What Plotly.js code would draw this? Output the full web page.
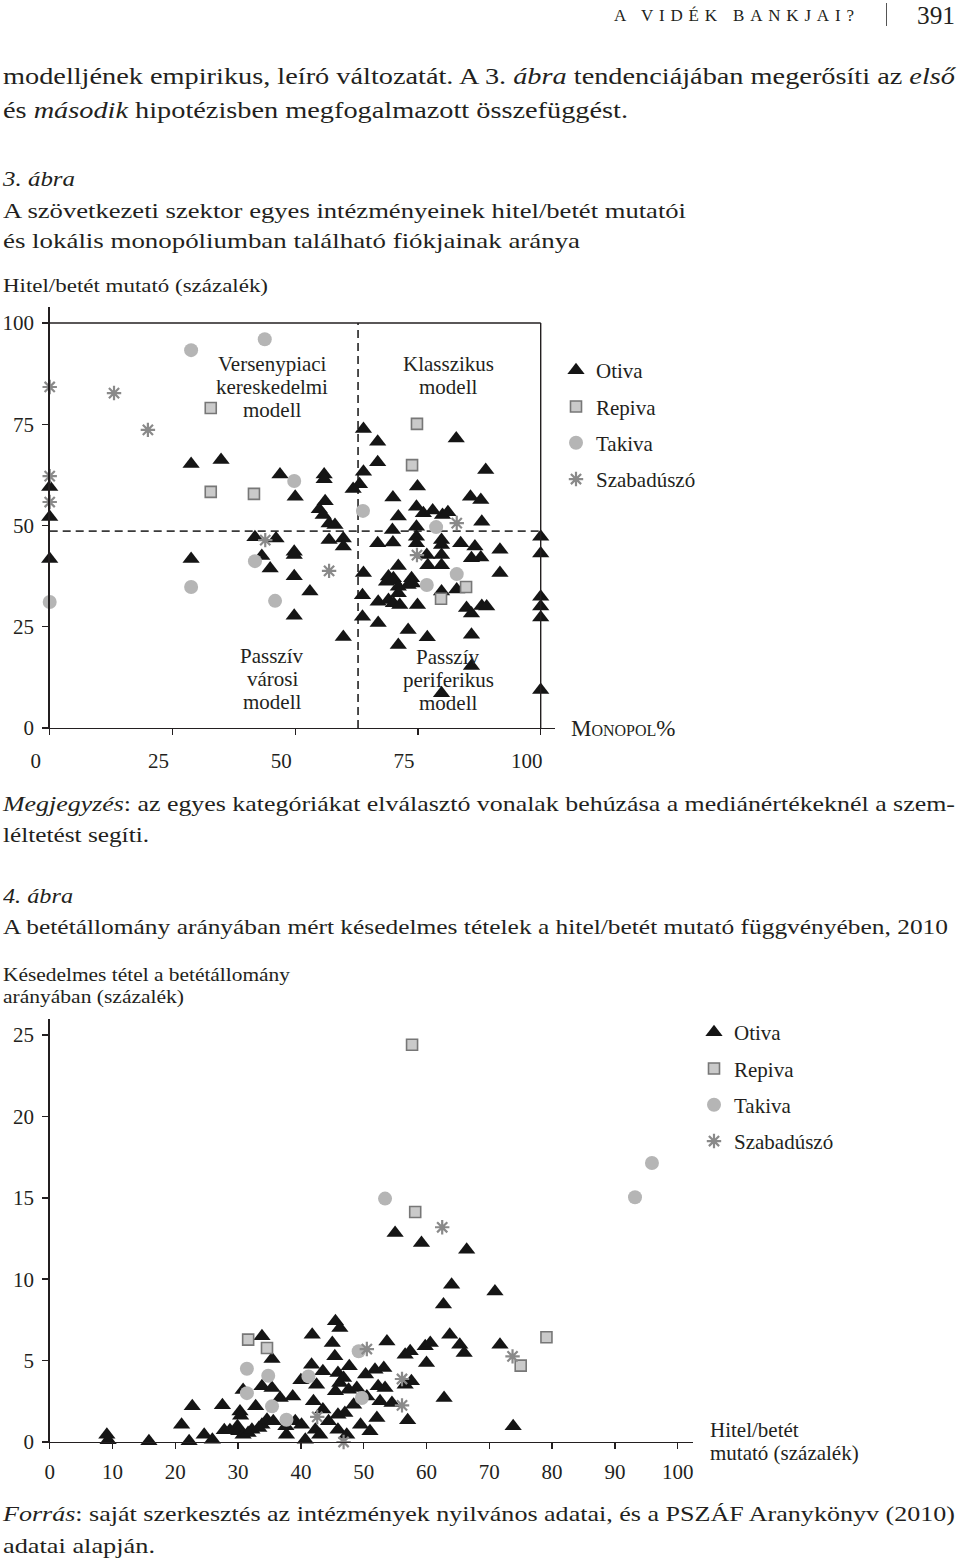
<!DOCTYPE html>
<html>
<head>
<meta charset="utf-8">
<script src="https://cdn.plot.ly/plotly-3.0.1.min.js"></script>
<style>
  body { margin: 0; background: #fff; }
  #page { position: relative; width: 960px; height: 1561px; overflow: hidden; background: #fff;
          font-family: "Liberation Serif", "DejaVu Serif", serif; color: #231f20; }
  #plot { position: absolute; left: 0; top: 0; width: 960px; height: 1561px; }
  .ln { position: absolute; white-space: nowrap; line-height: 1; transform-origin: 0 50%; z-index: 5; }
  .bar { position: absolute; left: 886px; top: 3px; width: 1px; height: 23px; background: #555; z-index: 5; }
  i { font-style: italic; }
</style>
</head>
<body>
<div id="page">
  <div id="plot"></div>
  <div class="ln" data-l="614" data-cy="16" data-f="17" data-r="854" data-mode="ls">A VIDÉK BANKJAI?</div>
  <div class="bar"></div>
  <div class="ln" data-l="917" data-cy="17" data-f="25" data-r="955">391</div>

  <div class="ln" data-l="3" data-cy="77" data-f="24" data-r="955">modelljének empirikus, leíró változatát. A 3. <i>ábra</i> tendenciájában megerősíti az <i>első</i></div>
  <div class="ln" data-l="3" data-cy="111" data-f="24" data-r="628">és <i>második</i> hipotézisben megfogalmazott összefüggést.</div>

  <div class="ln" data-l="3" data-cy="180" data-f="22" data-r="75"><i>3. ábra</i></div>
  <div class="ln" data-l="3" data-cy="212" data-f="22" data-r="686">A szövetkezeti szektor egyes intézményeinek hitel/betét mutatói</div>
  <div class="ln" data-l="3" data-cy="242" data-f="22" data-r="580">és lokális monopóliumban található fiókjainak aránya</div>
  <div class="ln" data-l="3" data-cy="286" data-f="19" data-r="268">Hitel/betét mutató (százalék)</div>

  <div class="ln" data-l="3" data-cy="805" data-f="22" data-r="955"><i>Megjegyzés</i>: az egyes kategóriákat elválasztó vonalak behúzása a mediánértékeknél a szem-</div>
  <div class="ln" data-l="3" data-cy="836" data-f="22" data-r="149">léltetést segíti.</div>

  <div class="ln" data-l="3" data-cy="897" data-f="22" data-r="73"><i>4. ábra</i></div>
  <div class="ln" data-l="3" data-cy="928" data-f="22" data-r="948">A betétállomány arányában mért késedelmes tételek a hitel/betét mutató függvényében, 2010</div>
  <div class="ln" data-l="3" data-cy="975" data-f="19" data-r="290">Késedelmes tétel a betétállomány</div>
  <div class="ln" data-l="3" data-cy="997" data-f="19" data-r="184">arányában (százalék)</div>

  <div class="ln" data-l="3" data-cy="1515" data-f="22" data-r="955"><i>Forrás</i>: saját szerkesztés az intézmények nyilvános adatai, és a PSZÁF Aranykönyv (2010)</div>
  <div class="ln" data-l="3" data-cy="1547" data-f="22" data-r="155">adatai alapján.</div>
</div>

<script>
// ---------------- DATA: chart 3 (Monopol% vs Hitel/betét) ----------------
const c1OtivaX = [0,0,0, 28.8,34.9,28.8, 46.9,55.9,55.9,50.0,56.1,54.9,55.7,56.9,58.1,
  41.8,46.1,43.2,49.8,49.8,44.9,49.8,53.0,49.8,56.9,59.8,59.8,59.8,
  63.9,66.8,66.8,63.9,63.1,61.8,
  82.8,88.8,74.9,69.9,85.7,87.8,74.7,76.1,78.0,80.0,81.1,71.0,88.0,69.8,74.7,
  74.7,74.7,66.8,69.9,79.8,79.8,83.7,86.6,87.8,85.9,91.7,
  76.8,79.8,79.8,77.0,71.0,63.9,91.7,69.0,70.0,73.7,
  68.6,70.0,71.0,73.0,73.9,82.9,79.8,63.7,66.9,69.0,70.0,71.0,71.3,74.9,84.9,85.9,88.0,89.0,
  63.7,66.9,73.0,71.0,76.9,85.9,85.9,79.8,
  100,100,100,100,100,100];
const c1OtivaY = [59.5,52.1,41.7, 65.2,66.2,41.7, 62.6,62.6,61.4,57.1,56.0,54.0,52.6,50.5,50.1,
  47.1,46.8,42.5,43.5,42.7,39.4,37.5,33.7,27.7,46.4,46.8,44.8,22.5,
  73.8,70.7,65.6,63.3,60.2,59.0,
  71.5,63.7,59.6,56.9,57.1,56.3,54.6,53.0,53.7,52.6,53.3,52.2,50.9,48.9,49.7,
  47.2,45.6,45.6,45.8,46.4,45.2,45.6,44.8,42.1,41.9,44.0,
  42.7,42.7,40.2,40.2,40.0,38.3,38.3,37.4,37.0,37.0,
  36.1,36.5,34.9,35.3,35.7,34.2,33.7,32.8,31.2,31.6,30.8,33.3,30.4,30.4,29.6,28.3,30.1,30.0,
  27.5,25.9,24.2,20.5,22.4,23.0,15.3,8.6,
  47.2,43.1,32.4,30.0,27.3,9.4];
const c1RepivaX = [32.8,32.8,41.6,74.8,73.8,79.7,84.8];
const c1RepivaY = [79.0,58.3,57.8,75.1,64.9,31.9,34.8];
const c1TakivaX = [0,28.8,43.8,28.8,41.8,45.9,49.8,63.8,78.7,76.8,82.9];
const c1TakivaY = [31.1,93.3,96.0,34.8,41.2,31.4,61.0,53.6,49.6,35.3,38.0];
const c1SzabadX = [0,13.1,20.0,0,0,43.9,56.9,74.8,82.9];
const c1SzabadY = [84.2,82.7,73.6,62.2,55.8,46.4,38.8,42.7,50.6];
const c1Ticks = [0,25,50,75,100];
const c1MedianX = 62.8;   // vertical dashed median line (Monopol%)
const c1MedianY = 48.6;   // horizontal dashed median line (Hitel/betét)
const c1QuadrantLabels = [["Versenypiaci","kereskedelmi","modell"], ["Klasszikus","modell"],
                          ["Passzív","városi","modell"], ["Passzív","periferikus","modell"]];

// ---------------- DATA: chart 4 (késedelmes tétel vs Hitel/betét) ----------------
const c2OtivaX = [9.1,9.3,15.8,21.0,22.7,22.2,24.6,25.9,27.5,27.8,28.7,29.9,30.3,30.4,30.1,30.8,30.8,31.6,32.2,32.8,
  33.8,33.8,33.8,33.3,34.6,35.4,35.4,35.6,36.7,37.6,37.7,38.7,39.1,40.0,40.1,40.7,41.7,41.8,42.0,42.5,
  42.3,43.0,43.5,43.5,44.4,45.0,45.4,45.5,46.2,45.5,45.9,46.2,45.9,45.9,46.8,47.0,47.3,47.6,47.7,48.4,
  48.9,49.5,50.3,50.5,51.0,51.8,52.1,52.3,52.6,53.2,53.4,53.7,54.5,55.0,56.6,56.6,57.4,57.6,57.0,59.2,
  59.8,60.0,60.6,62.7,62.8,63.7,64.0,65.3,66.0,66.4,70.9,71.7,73.8];
const c2OtivaY = [0.45,0.1,0.04,1.06,2.19,0.04,0.45,0.14,2.25,0.72,0.72,0.96,1.88,1.62,0.66,0.45,3.2,0.55,0.76,2.19,
  6.49,3.42,1.06,0.86,1.37,5.1,3.32,1.27,2.7,0.96,0.45,2.8,1.27,3.79,1.06,0.14,4.75,6.59,2.5,3.52,
  0.76,0.45,4.34,1.99,1.27,6.08,5.26,7.41,7.0,3.11,4.24,3.62,1.68,0.76,3.93,1.78,0.45,3.21,4.65,2.29,
  3.32,1.06,4.14,2.8,0.66,4.44,1.47,3.42,2.5,4.55,3.32,6.18,2.4,12.84,5.36,3.52,5.57,3.73,1.33,12.22,
  5.88,4.85,6.08,8.44,2.7,6.59,9.66,5.98,5.47,11.81,9.25,5.98,0.96];
const c2RepivaX = [31.6,34.6,57.7,58.2,79.1,75.0];
const c2RepivaY = [6.29,5.77,24.4,14.13,6.43,4.69];
const c2TakivaX = [31.4,31.4,34.8,35.4,37.7,41.2,49.2,49.7,53.4,93.2,95.9];
const c2TakivaY = [4.5,3.0,4.07,2.19,1.37,4.03,5.57,2.7,14.95,15.03,17.14];
const c2SzabadX = [50.5,42.6,46.8,56.1,56.1,62.5,73.7];
const c2SzabadY = [5.71,1.54,0.0,3.87,2.25,13.19,5.26];
const c2XTicks = [0,10,20,30,40,50,60,70,80,90,100];
const c2YTicks = [0,5,10,15,20,25];

const seriesNames = ["Otiva","Repiva","Takiva","Szabadúszó"];

// ---------------- styling ----------------
const INK = '#231f20';
const FONT = '"Liberation Serif", "DejaVu Serif", serif';
const W = 960, H = 1561;
const PX = p => p / W;
const PY = p => 1 - p / H;

const styles = [
  {symbol:'triangle-up', size:15, color:'#151515', line:{width:0}},
  {symbol:'square', size:11, color:'#cacaca', line:{color:'#777', width:1.6}},
  {symbol:'circle', size:14, color:'#b5b5b5', line:{width:0}},
  {symbol:'asterisk-open', size:12, color:'#8a8a8a', line:{color:'#8a8a8a', width:2.2}}
];

function mk(x, y, i, xa, ya, legend, grp) {
  return {
    type:'scatter', mode:'markers', x:x, y:y, name:seriesNames[i],
    xaxis:xa, yaxis:ya, legend:legend, legendgroup:grp+i, cliponaxis:false,
    marker:styles[i], hoverinfo:'x+y+name'
  };
}

const traces = [
  mk(c1OtivaX, c1OtivaY, 0, 'x', 'y', 'legend', 'a'),
  mk(c1RepivaX, c1RepivaY, 1, 'x', 'y', 'legend', 'a'),
  mk(c1TakivaX, c1TakivaY, 2, 'x', 'y', 'legend', 'a'),
  mk(c1SzabadX, c1SzabadY, 3, 'x', 'y', 'legend', 'a'),
  mk(c2OtivaX, c2OtivaY, 0, 'x2', 'y2', 'legend2', 'b'),
  mk(c2RepivaX, c2RepivaY, 1, 'x2', 'y2', 'legend2', 'b'),
  mk(c2TakivaX, c2TakivaY, 2, 'x2', 'y2', 'legend2', 'b'),
  mk(c2SzabadX, c2SzabadY, 3, 'x2', 'y2', 'legend2', 'b')
];

const TICKSIZE = 21;
const axisCommon = {
  showgrid:false, zeroline:false, showline:true, linecolor:INK, linewidth:1.4,
  ticks:'outside', ticklen:6, tickwidth:1.4, tickcolor:INK,
  tickfont:{family:FONT, size:TICKSIZE, color:INK}, fixedrange:true
};

// chart 1 pixel frame
const c1L = 49.7, c1B = 728, c1PxX = 4.91, c1PxY = 4.05;
const c1XMax = 103, c1YMax = 104;
// chart 2 pixel frame
const c2L = 49.7, c2B = 1442, c2PxX = 6.28, c2PxY = 16.28;
const c2XMax = 102.4, c2YMax = 26;

function ann(text, x, y, size, xanchor, extra) {
  return Object.assign({
    text:text, xref:'paper', yref:'paper', x:PX(x), y:PY(y), xanchor:xanchor||'center', yanchor:'middle',
    showarrow:false, align: (xanchor==='left'?'left':'center'),
    font:{family:FONT, size:size, color:INK}
  }, extra||{});
}
// multi-line label with tight line spacing: one annotation per line
function stack(lines, cx, firstY, step, size, xanchor) {
  return lines.map((t, k) => ann(t, cx, firstY + k*step, size, xanchor));
}

const annotations = [].concat(
  stack(c1QuadrantLabels[0], 272, 364, 23, 21),
  stack(c1QuadrantLabels[1], 448, 364, 23, 21),
  stack(c1QuadrantLabels[2], 272, 656, 23, 21),
  stack(c1QuadrantLabels[3], 448, 657, 23, 21),
  [ann('Monopol%', 569, 728, 23, 'left', {font:{family:FONT, size:23, color:INK, variant:'small-caps'}})],
  stack(['Hitel/betét', 'mutató (százalék)'], 708, 1430, 23, 21, 'left')
);

const layout = {
  width:W, height:H, autosize:false, margin:{l:0,r:0,t:0,b:0},
  paper_bgcolor:'rgba(0,0,0,0)', plot_bgcolor:'rgba(0,0,0,0)',
  font:{family:FONT, color:INK},
  xaxis: Object.assign({}, axisCommon, {
    domain:[PX(c1L), PX(c1L + c1XMax*c1PxX)], range:[0,c1XMax], anchor:'y',
    tickvals:c1Ticks, ticktext:c1Ticks.map(String), ticklabelshift:-14, ticklabelstandoff:7
  }),
  yaxis: Object.assign({}, axisCommon, {
    domain:[PY(c1B), PY(c1B - c1YMax*c1PxY)], range:[0,c1YMax], anchor:'x',
    tickvals:c1Ticks, ticktext:c1Ticks.map(String), ticklabelstandoff:4
  }),
  xaxis2: Object.assign({}, axisCommon, {
    domain:[PX(c2L), PX(c2L + c2XMax*c2PxX)], range:[0,c2XMax], anchor:'y2',
    tickvals:c2XTicks, ticktext:c2XTicks.map(String), ticklabelstandoff:4
  }),
  yaxis2: Object.assign({}, axisCommon, {
    domain:[PY(c2B), PY(c2B - c2YMax*c2PxY)], range:[0,c2YMax], anchor:'x2',
    tickvals:c2YTicks, ticktext:c2YTicks.map(String), ticklabelstandoff:4
  }),
  shapes:[
    {type:'line', xref:'x', yref:'y', x0:0, x1:100, y0:100, y1:100, line:{color:INK, width:1.4}},
    {type:'line', xref:'x', yref:'y', x0:100, x1:100, y0:0, y1:100, line:{color:INK, width:1.4}},
    {type:'line', xref:'x', yref:'y', x0:0, x1:100, y0:c1MedianY, y1:c1MedianY, line:{color:'#3a3a3a', width:1.8, dash:'8px,5px'}, layer:'below'},
    {type:'line', xref:'x', yref:'y', x0:c1MedianX, x1:c1MedianX, y0:0, y1:100, line:{color:'#3a3a3a', width:1.8, dash:'8px,5px'}, layer:'below'}
  ],
  annotations: annotations,
  legend:{
    x:PX(556), y:PY(350), xanchor:'left', yanchor:'top', bgcolor:'rgba(0,0,0,0)', borderwidth:0,
    font:{family:FONT, size:21, color:INK}, tracegroupgap:6, traceorder:'grouped', itemclick:false, itemdoubleclick:false
  },
  legend2:{
    x:PX(694), y:PY(1012), xanchor:'left', yanchor:'top', bgcolor:'rgba(0,0,0,0)', borderwidth:0,
    font:{family:FONT, size:21, color:INK}, tracegroupgap:6, traceorder:'grouped', itemclick:false, itemdoubleclick:false
  },
  showlegend:true
};

function fitLines() {
  document.querySelectorAll('.ln').forEach(el => {
    const f = parseFloat(el.dataset.f), l = parseFloat(el.dataset.l);
    const cy = parseFloat(el.dataset.cy), r = parseFloat(el.dataset.r);
    el.style.fontSize = f + 'px';
    el.style.left = l + 'px';
    el.style.top = Math.max(1, cy - 0.55*f) + 'px';
    const w = el.getBoundingClientRect().width;
    const target = r - l;
    if (el.dataset.mode === 'ls') {
      const n = el.textContent.length;
      el.style.letterSpacing = ((target - w) / (n - 1)) + 'px';
    } else {
      el.style.transform = 'scaleX(' + (target / w).toFixed(4) + ')';
    }
  });
}

Plotly.newPlot('plot', traces, layout, {staticPlot:true, displayModeBar:false}).then(fitLines);
</script>
</body>
</html>
